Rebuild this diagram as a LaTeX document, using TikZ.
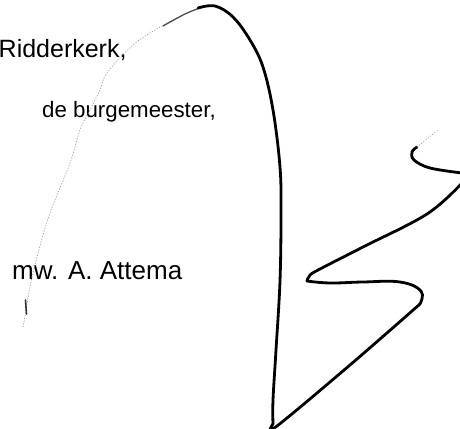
\documentclass[tikz,border=0pt]{standalone}
\usepackage{fontspec}
\setmainfont{Liberation Sans}
\begin{document}
\begin{tikzpicture}[x=1pt,y=-1pt,
  txt/.style={anchor=base west,inner sep=0pt,text=black},
  ink/.style={line width=2.8pt,line cap=round,line join=round,black},
  faint/.style={line width=0.8pt,gray!70,dotted,line cap=round}]
\useasboundingbox (0,0) rectangle (460,428);
\fill[white] (0,0) rectangle (460,428);
\node[txt,font=\fontsize{25}{28}\selectfont] (r) at (-1.5,57) {Ridderkerk,};
\node[txt,font=\fontsize{22.3}{24}\selectfont] (b) at (42,117) {de burgemeester,};
\node[txt,font=\fontsize{26}{28}\selectfont] (a) at (12,279) {mw. A. Attema};
% faint stroke
\draw[faint] plot[smooth,tension=0.6] coordinates {(23,327) (26,311) (30,287) (37,257) (50,213) (70,163) (80,130) (90,110) (100,90) (107,73) (133,45) (160,27) (185,14)};
\draw[line width=1.3pt,gray!60!black,line cap=round] plot[smooth,tension=0.6] coordinates {(163,26) (185,14) (200,8)};
\draw[line width=1.6pt,gray!40!black,line cap=round] (25.5,300) -- (26.5,314);
% main stroke
\draw[ink] plot[smooth,tension=0.6] coordinates {(198,8) (215,6) (233,17) (250,40) (263,67) (273,110) (280,167) (281,214) (280,281) (276,350) (273,400) (273,424)};
\draw[ink] plot[smooth,tension=0.6] coordinates {(273,424) (277,426) (350,365) (420,304)};
\draw[ink] plot[smooth,tension=0.7] coordinates {(420,304) (421,291) (400,282) (363,282) (330,283) (307,281)};
\draw[ink] plot[smooth,tension=0.6] coordinates {(307,281) (310,275) (320,269) (363,247) (427,214) (462,183)};
\draw[ink] plot[smooth,tension=0.6] coordinates {(462,173) (430,168) (414,160) (412,152) (417,147)};
\draw[faint] (417,147) -- (438,130);
\end{tikzpicture}
\end{document}
